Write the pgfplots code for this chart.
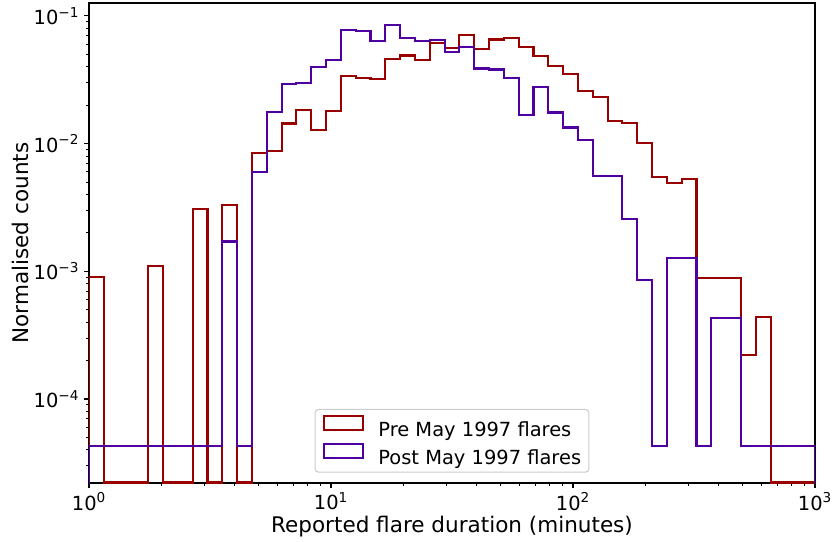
\documentclass[border=0pt]{standalone}
\usepackage{fontspec}
\setmainfont{DejaVu Sans}
\usepackage{pgfplots}
\pgfplotsset{compat=1.18}
\definecolor{prec}{RGB}{153,0,0}
\definecolor{postc}{RGB}{80,0,160}
\begin{document}
\begin{tikzpicture}
\path[use as bounding box] (-64.08pt,-42.48pt) rectangle (535.68pt,347.76pt);
\begin{axis}[
  at={(0,0)}, anchor=south west,
  scale only axis, width=522.72pt, height=345.6pt,
  xmode=log, ymode=log,
  xmin=1, xmax=1000, ymin=2.2e-5, ymax=0.126,
  xtick={1,10,100,1000},
  xticklabels={10\textsuperscript{0},10\textsuperscript{1},10\textsuperscript{2},10\textsuperscript{3}},
  minor xtick={2,3,4,5,6,7,8,9,20,30,40,50,60,70,80,90,200,300,400,500,600,700,800,900},
  ytick={1e-4,1e-3,1e-2,1e-1},
  yticklabels={10\textsuperscript{−4},10\textsuperscript{−3},10\textsuperscript{−2},10\textsuperscript{−1}},
  minor ytick={3e-5,4e-5,5e-5,6e-5,7e-5,8e-5,9e-5,2e-4,3e-4,4e-4,5e-4,6e-4,7e-4,8e-4,9e-4,2e-3,3e-3,4e-3,5e-3,6e-3,7e-3,8e-3,9e-3,2e-2,3e-2,4e-2,5e-2,6e-2,7e-2,8e-2,9e-2},
  tick align=outside, tick pos=left,
  major tick length=3.5pt, minor tick length=2pt,
  every tick/.style={black, line width=0.8pt},
  every minor tick/.style={black, line width=0.6pt},
  axis line style={line width=0.8pt},
  ticklabel style={font=\fontsize{14}{16}\selectfont},
  xlabel={Reported flare duration (minutes)},
  ylabel={Normalised counts},
  xlabel style={font=\fontsize{15.5}{18}\selectfont, at={(axis description cs:0.5,-0.1021)}, anchor=base},
  ylabel style={font=\fontsize{15.5}{18}\selectfont, at={(axis description cs:-0.0836,0.5)}, anchor=base},
  legend cell align=left,
  legend style={at={(0.5,0.0215)}, anchor=south, draw=black!20, line width=0.8pt,
    rounded corners=2.5pt, fill=white, fill opacity=0.8, text opacity=1,
    font=\fontsize{14}{17}\selectfont, inner xsep=5.6pt, inner ysep=4.2pt,
    row sep=3.1pt, nodes={inner sep=0pt},
    /tikz/every odd column/.append style={column sep=10.5pt}},
  legend image code/.code={\draw[#1, line width=1.5pt, sharp corners] (0pt,0.2pt) rectangle (28pt,10pt);},
]
\addplot[prec, line width=1.5pt, line join=miter, const plot] table {
x y
1 1e-6
1 8.95e-4
1.15140 2.22e-5
1.32571 2.22e-5
1.52642 2.22e-5
1.75751 1.1e-3
2.02359 2.22e-5
2.32995 2.22e-5
2.68270 3.07e-3
3.08885 2.22e-5
3.55648 3.32e-3
4.09491 2.22e-5
4.71487 8.41e-3
5.42868 8.8e-3
6.25055 0.01435
7.19685 0.0183
8.28643 0.0128
9.54095 0.0181
10.9854 0.0338
12.6486 0.0327
14.5635 0.0319
16.7683 0.0458
19.3070 0.0489
22.2299 0.045
25.5954 0.0608
29.4705 0.0558
33.9322 0.071
39.0694 0.0548
44.9843 0.0653
51.7947 0.0668
59.6362 0.0569
68.6649 0.0481
79.0604 0.0406
91.0298 0.035
104.811 0.0256
120.679 0.0231
138.950 0.0151
159.986 0.01440
184.207 0.0101
212.095 0.0055
244.205 0.0049
281.177 0.0053
323.746 8.8e-4
372.759 8.8e-4
429.194 8.8e-4
494.172 2.22e-4
568.986 4.41e-4
655.128 2.22e-5
754.312 2.22e-5
868.511 2.22e-5
1000 2.22e-5
1000 1e-6
};
\addlegendentry{Pre May 1997 flares}
\addplot[postc, line width=1.5pt, line join=miter, const plot] table {
x y
1 1e-6
1 4.26e-5
1.15140 4.26e-5
1.32571 4.26e-5
1.52642 4.26e-5
1.75751 4.26e-5
2.02359 4.26e-5
2.32995 4.26e-5
2.68270 4.26e-5
3.08885 4.26e-5
3.55648 1.71e-3
4.09491 4.26e-5
4.71487 5.98e-3
5.42868 0.0178
6.25055 0.0292
7.19685 0.0297
8.28643 0.0399
9.54095 0.0453
10.9854 0.0777
12.6486 0.0759
14.5635 0.063
16.7683 0.085
19.3070 0.0676
22.2299 0.0633
25.5954 0.0645
29.4705 0.052
33.9322 0.0572
39.0694 0.0387
44.9843 0.038
51.7947 0.0326
59.6362 0.0167
68.6649 0.0278
79.0604 0.0175
91.0298 0.01336
104.811 0.0107
120.679 0.0056
138.950 0.0056
159.986 2.56e-3
184.207 8.6e-4
212.095 4.26e-5
244.205 1.28e-3
281.177 1.28e-3
323.746 4.26e-5
372.759 4.3e-4
429.194 4.3e-4
494.172 4.26e-5
568.986 4.26e-5
655.128 4.26e-5
754.312 4.26e-5
868.511 4.26e-5
1000 4.26e-5
1000 1e-6
};
\addlegendentry{Post May 1997 flares}
\end{axis}
\end{tikzpicture}
\end{document}
